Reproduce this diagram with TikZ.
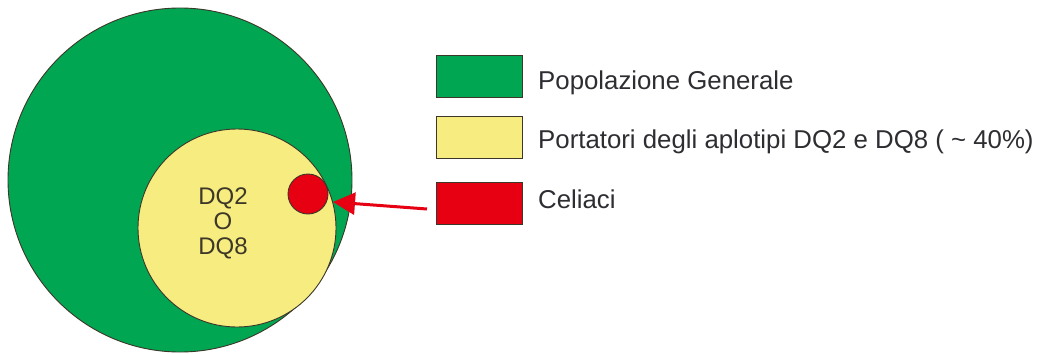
\documentclass[tikz,border=0pt]{standalone}
\usepackage{fontspec}
\setmainfont{Liberation Sans}
\usetikzlibrary{arrows.meta}
\definecolor{gpop}{RGB}{0,166,81}
\definecolor{ypop}{RGB}{246,236,128}
\definecolor{rpop}{RGB}{230,0,18}
\definecolor{edge}{RGB}{60,55,40}
\definecolor{txt}{RGB}{45,45,50}
\tikzset{
  x=1pt, y=-1pt,
  disc/.style={circle, draw=edge, line width=0.9pt, inner sep=0pt},
  legbox/.style={rectangle, draw=edge, line width=0.9pt, minimum width=86pt, minimum height=42pt, inner sep=0pt},
  legtext/.style={anchor=base west, inner sep=0pt, text=txt, font=\fontsize{25.8}{27}\selectfont},
  arr/.style={draw=rpop, line width=3pt, -{Triangle[length=22pt,width=22pt]}}
}
\begin{document}
\begin{tikzpicture}
\useasboundingbox (0,0) rectangle (1040,353);
\node[disc, fill=gpop, minimum size=344pt] (pop) at (180,180) {};
\node[disc, fill=ypop, minimum size=198pt] (dq) at (237,228) {};
\node[disc, fill=rpop, minimum size=40pt] (cel) at (308,194) {};
\node[align=center, text=edge, inner sep=0pt, font=\fontsize{24}{25}\selectfont] (dqt) at (223,223) {DQ2\\O\\DQ8};
\node[legbox, fill=gpop] (l1) at (479,76.5) {};
\node[legbox, fill=ypop] (l2) at (479,137) {};
\node[legbox, fill=rpop] (l3) at (479,203) {};
\node[legtext] (t1) at (538,89) {Popolazione Generale};
\node[legtext] (t2) at (538,148) {Portatori degli aplotipi DQ2 e DQ8 ( \char"007E{} 40\%)};
\node[legtext] (t3) at (538,208) {Celiaci};
\coordinate (atail) at (427,209);
\coordinate (ahead) at (333,202);
\draw[arr] (atail) -- (ahead);
\end{tikzpicture}
\end{document}
